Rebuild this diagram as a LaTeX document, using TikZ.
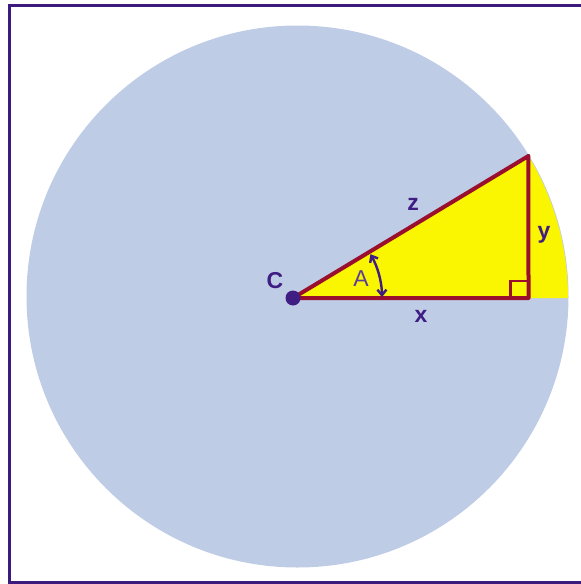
\documentclass[tikz,border=0pt]{standalone}
\usepackage{fontspec}
\setmainfont{Liberation Sans}
\usetikzlibrary{arrows.meta,calc}
\definecolor{frame}{HTML}{3D1A7E}
\definecolor{disc}{HTML}{BECCE6}
\definecolor{wedge}{HTML}{FAF500}
\definecolor{side}{HTML}{9A0F2E}
\definecolor{ink}{HTML}{3F1D82}

\begin{document}
\begin{tikzpicture}[x=1pt,y=-1pt,
  lbl/.style={text=ink,font=\fontsize{23}{24}\selectfont\bfseries,inner sep=0pt}]
\useasboundingbox (0,0) rectangle (581,584);

% frame, open on the right
\draw[frame,line width=3pt] (581,5.5) -- (9.5,5.5) -- (9.5,582.5) -- (581,582.5);

\coordinate (O) at (297.5,296.5);
\coordinate (C) at (293,298);
\coordinate (B) at (528.5,298);
\coordinate (T) at ($(C)+(-31.1:275)$);

\fill[disc] (O) circle (271);
\fill[wedge] (C) -- ++(0:275) arc (0:-31.1:275) -- cycle;

% right angle mark
\draw[side,line width=2.4pt] ($(B)+(-18,0)$) -- ++(0,-17) -- ++(18,0);
\draw[side,line width=4pt,line join=round] (C) -- (B) -- (T) -- cycle;

% angle A
\coordinate (A1) at ($(C)+(-29.5:89)$);
\draw[ink,line width=2.4pt,{Straight Barb[length=5.5pt,width=9pt]}-{Straight Barb[length=5.5pt,width=9pt]}]
  (A1) arc (-29.5:-0.6:89);

\fill[ink] (C) circle (7.5);

\node[lbl] (labC) at (275,281) {C};
\node[lbl] (labz) at (413,204) {z};
\node[lbl] (laby) at (544,235) {y};
\node[lbl] (labx) at (421,316) {x};
\node[text=ink!85,font=\fontsize{23}{24}\selectfont,inner sep=0pt] (labA) at (361,279) {A};
\end{tikzpicture}
\end{document}
